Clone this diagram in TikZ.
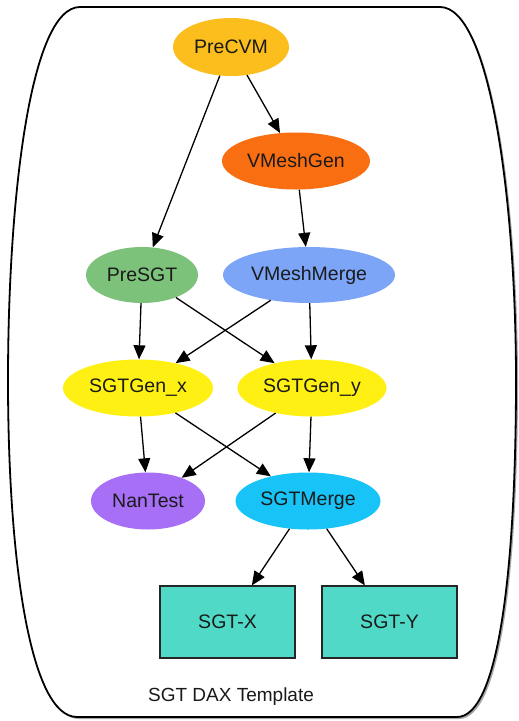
\documentclass[tikz,border=0pt]{standalone}
\usepackage{fontspec}
\setmainfont{Liberation Sans}
\usetikzlibrary{shapes.geometric,arrows.meta,shadows}
\definecolor{cPreCVM}{HTML}{FBBE1C}
\definecolor{cVMeshGen}{HTML}{FA6E12}
\definecolor{cPreSGT}{HTML}{7DC27B}
\definecolor{cVMeshMerge}{HTML}{7DA5F7}
\definecolor{cSGTGen}{HTML}{FFF014}
\definecolor{cNanTest}{HTML}{A66FF5}
\definecolor{cSGTMerge}{HTML}{17C3F7}
\definecolor{cSGTout}{HTML}{4FD9C6}
\definecolor{ctext}{HTML}{1A1A1A}
\tikzset{
  jobnode/.style={ellipse, inner sep=0pt, text=ctext, font=\fontsize{19.5}{22}\selectfont},
  filebox/.style={rectangle, inner sep=0pt, draw=black!85, line width=1.2pt, fill=cSGTout,
    minimum width=135pt, minimum height=72pt, text=ctext, font=\fontsize{19.5}{22}\selectfont},
  dep/.style={line width=1.3pt, draw=black, -{Triangle[length=14pt,width=12pt]}},
  frame/.style={line width=1.8pt, draw=black, fill=white,
    drop shadow={shadow xshift=2pt, shadow yshift=-2pt, fill=black, opacity=0.35}}
}
\begin{document}
\begin{tikzpicture}[x=1pt,y=-1pt]
\useasboundingbox (0,0) rectangle (519,721);
\path[frame] (80,7) -- (440,7) .. controls (490,7) and (516,200) .. (516,380)
  .. controls (516,560) and (500,717) .. (457,717) -- (77,717)
  .. controls (30,717) and (8,560) .. (8,380)
  .. controls (8,200) and (30,7) .. (80,7) -- cycle;

\node[jobnode, fill=cPreCVM, minimum width=116pt, minimum height=58pt] (precvm) at (231,47) {PreCVM};
\node[jobnode, fill=cVMeshGen, minimum width=148pt, minimum height=57pt] (vmeshgen) at (296,161) {VMeshGen};
\node[jobnode, fill=cPreSGT, minimum width=112pt, minimum height=56pt] (presgt) at (142,275) {PreSGT};
\node[jobnode, fill=cVMeshMerge, minimum width=172pt, minimum height=56pt] (vmeshmerge) at (309,275) {VMeshMerge};
\node[jobnode, fill=cSGTGen, minimum width=150pt, minimum height=57pt] (sgtgenx) at (138,388) {SGTGen\_x};
\node[jobnode, fill=cSGTGen, minimum width=149pt, minimum height=57pt] (sgtgeny) at (312,388) {SGTGen\_y};
\node[jobnode, fill=cNanTest, minimum width=114pt, minimum height=57pt] (nantest) at (148,501) {NanTest};
\node[jobnode, fill=cSGTMerge, minimum width=145pt, minimum height=57pt] (sgtmerge) at (308,501) {SGTMerge};
\node[filebox] (sgtX) at (227.5,622) {SGT-X};
\node[filebox] (sgtY) at (389.5,622) {SGT-Y};
\node[text=ctext, font=\fontsize{19}{22}\selectfont, inner sep=0pt] (label) at (231,697) {SGT DAX Template};

\draw[dep] (precvm) -- (vmeshgen);
\draw[dep] (precvm) -- (presgt);
\draw[dep] (vmeshgen) -- (vmeshmerge);
\draw[dep] (presgt) -- (sgtgenx);
\draw[dep] (presgt) -- (sgtgeny);
\draw[dep] (vmeshmerge) -- (sgtgenx);
\draw[dep] (vmeshmerge) -- (sgtgeny);
\draw[dep] (sgtgenx) -- (nantest);
\draw[dep] (sgtgenx) -- (sgtmerge);
\draw[dep] (sgtgeny) -- (nantest);
\draw[dep] (sgtgeny) -- (sgtmerge);
\draw[dep] (sgtmerge) -- (sgtX);
\draw[dep] (sgtmerge) -- (sgtY);
\end{tikzpicture}
\end{document}
